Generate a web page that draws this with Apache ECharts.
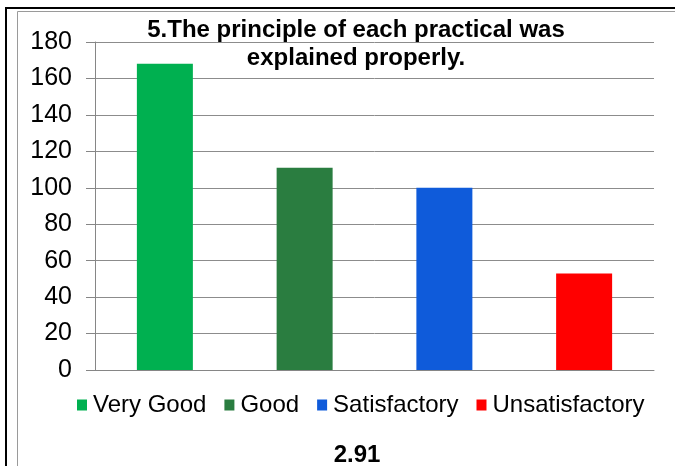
<!DOCTYPE html>
<html>
<head>
<meta charset="utf-8">
<script src="https://cdn.jsdelivr.net/npm/echarts@6/dist/echarts.min.js"></script>
<style>
html,body{margin:0;padding:0;background:#fff;}
#chart{width:675px;height:466px;}
</style>
</head>
<body>
<div id="chart"></div>
<script>
var categories = ['Very Good', 'Good', 'Satisfactory', 'Unsatisfactory'];
var values = [168, 111, 100, 53];
var colors = ['#00B050', '#2A7D40', '#0F5BDA', '#FF0000'];
var yTicks = [0, 20, 40, 60, 80, 100, 120, 140, 160, 180];
var titleText = '5.The principle of each practical was\nexplained properly.';
var meanText = '2.91';

var FONT = '"Liberation Sans", Arial, sans-serif';
var chart = echarts.init(document.getElementById('chart'), null, {renderer: 'canvas'});

var series = categories.map(function (name, i) {
  return {
    name: name,
    type: 'bar',
    stack: 'all',
    barWidth: 56,
    itemStyle: {color: colors[i]},
    data: categories.map(function (c, j) { return j === i ? values[i] : '-'; })
  };
});

var option = {
  backgroundColor: '#fff',
  animation: false,
  title: [
    {
      text: titleText,
      left: 356,
      top: 16,
      padding: 0,
      textAlign: 'center',
      textStyle: {fontFamily: FONT, fontSize: 24, fontWeight: 'bold', color: '#000', lineHeight: 28}
    },
    {
      text: meanText,
      left: 357,
      top: 441,
      padding: 0,
      textAlign: 'center',
      textStyle: {fontFamily: FONT, fontSize: 24, fontWeight: 'bold', color: '#000', lineHeight: 28}
    }
  ],
  legend: {
    data: categories,
    left: 77,
    top: 393,
    padding: 0,
    itemGap: 18,
    itemWidth: 10,
    itemHeight: 11,
    icon: 'rect',
    textStyle: {fontFamily: FONT, fontSize: 24, color: '#000', padding: [0, 0, 0, 1]}
  },
  grid: {left: 95, right: 21, top: 42, bottom: 96, containLabel: false},
  xAxis: {
    type: 'category',
    data: categories,
    axisLine: {show: true, lineStyle: {color: '#868686', width: 1}},
    axisTick: {show: false},
    axisLabel: {show: false},
    splitLine: {show: false}
  },
  yAxis: {
    type: 'value',
    min: yTicks[0],
    max: yTicks[yTicks.length - 1],
    interval: yTicks[1] - yTicks[0],
    axisLine: {show: true, lineStyle: {color: '#868686', width: 1}},
    axisTick: {show: true, inside: false, length: 9, lineStyle: {color: '#868686'}},
    axisLabel: {fontFamily: FONT, fontSize: 25, color: '#000', margin: 23},
    splitLine: {show: true, lineStyle: {color: '#8c8c8c', width: 1}}
  },
  graphic: [
    {type: 'line', shape: {x1: 6, y1: 8, x2: 675, y2: 8}, style: {stroke: '#000', lineWidth: 2}},
    {type: 'line', shape: {x1: 6, y1: 7, x2: 6, y2: 466}, style: {stroke: '#000', lineWidth: 2}},
    {type: 'line', shape: {x1: 17.5, y1: 11.5, x2: 675, y2: 11.5}, style: {stroke: '#9a9a9a', lineWidth: 1}},
    {type: 'line', shape: {x1: 17.5, y1: 11.5, x2: 17.5, y2: 466}, style: {stroke: '#9a9a9a', lineWidth: 1}}
  ],
  series: series
};
chart.setOption(option);
</script>
</body>
</html>
